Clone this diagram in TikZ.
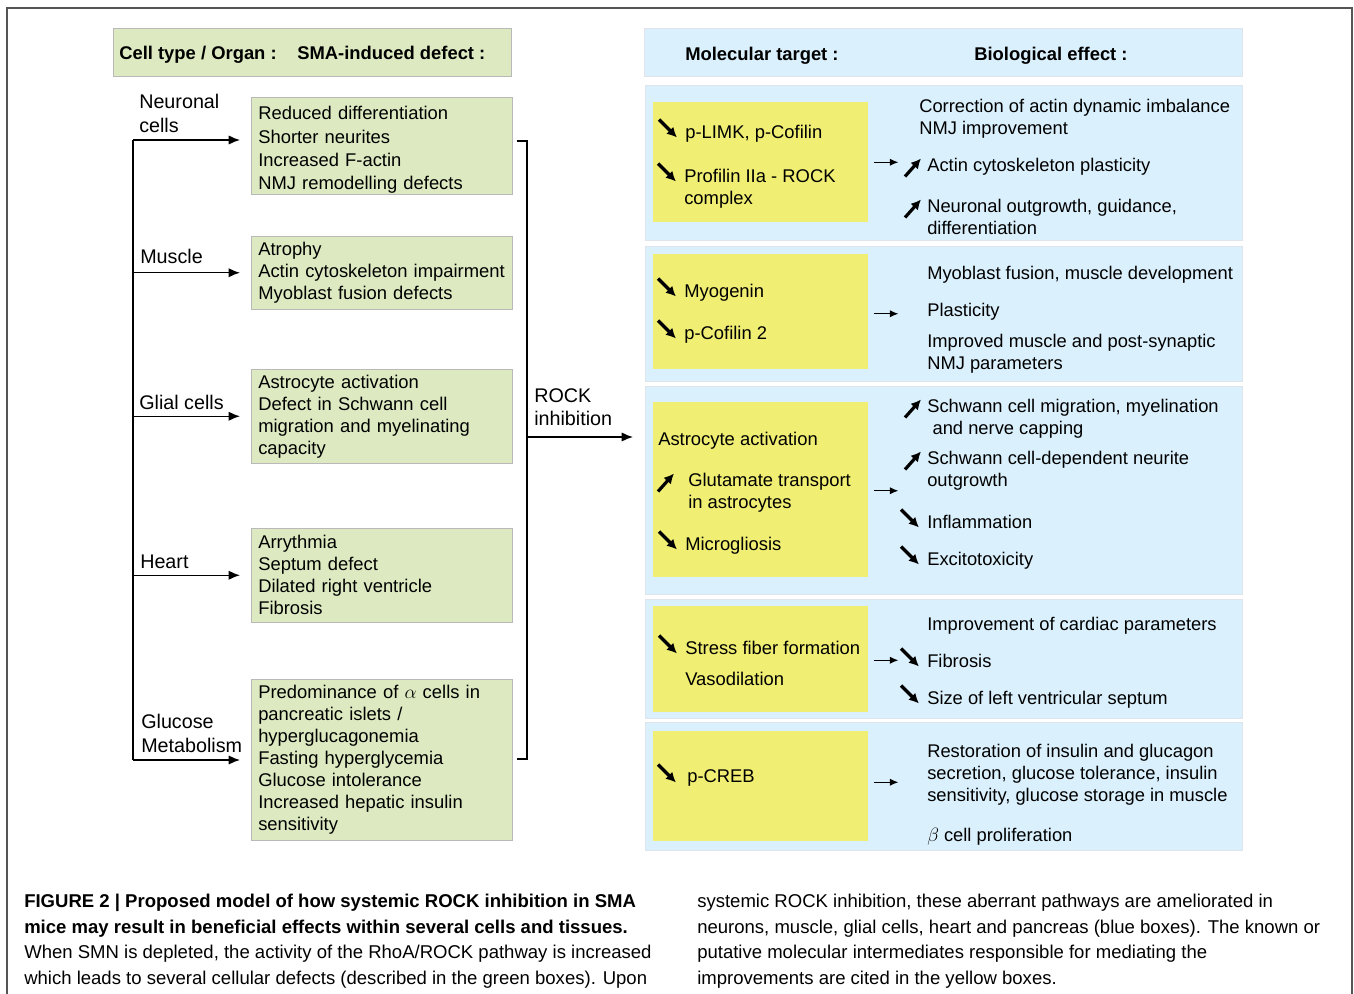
\documentclass[tikz,border=0pt]{standalone}
\usepackage{fontspec}
\setmainfont{Liberation Sans}
\usetikzlibrary{positioning}
\usetikzlibrary{arrows.meta}
\definecolor{defectGreen}{RGB}{221,234,193}
\definecolor{boxGray}{RGB}{185,185,185}
\definecolor{effectBlue}{RGB}{218,240,252}
\definecolor{panelEdge}{RGB}{222,228,234}
\definecolor{targetYellow}{RGB}{240,238,115}
\definecolor{frameGray}{RGB}{85,85,85}
\newcommand{\diagfont}{\fontsize{13.8pt}{16.5pt}\selectfont}
\newcommand{\effectfont}{\fontsize{13.75pt}{16.5pt}\selectfont}
\newcommand{\organfont}{\fontsize{14.8pt}{17.7pt}\selectfont}
\newcommand{\capfont}{\fontsize{13.9pt}{19.1pt}\selectfont}
\newcommand{\trenddown}[2][0]{\draw[trend] ([shift={(-26-#1,-5)}]#2.north west) -- ([shift={(-8-#1,13)}]#2.north west);}
\newcommand{\trendup}[2][0]{\draw[trend] ([shift={(-22-#1,19)}]#2.north west) -- ([shift={(-6-#1,1)}]#2.north west);}

\begin{document}
\begin{tikzpicture}[x=0.75pt,y=-0.75pt]

            \tikzstyle{defectBox} = [draw=boxGray, fill=defectGreen, anchor=north west, minimum width=195.75pt, text width=185.25pt, inner xsep=5.25pt, align=left, font=\diagfont];
            \tikzstyle{panel} = [draw=panelEdge, fill=effectBlue, anchor=north west, minimum width=447.75pt, inner sep=0pt];
            \tikzstyle{target} = [fill=targetYellow, anchor=north west, minimum width=161.25pt, inner sep=0pt];
            \tikzstyle{txt} = [anchor=north west, inner sep=0pt, align=left, font=\diagfont];
            \tikzstyle{head} = [txt, font=\diagfont\bfseries];
            \tikzstyle{effect} = [txt, font=\effectfont];
            \tikzstyle{organ} = [anchor=north west, inner sep=0pt, align=left, font=\organfont];
            \tikzstyle{caption} = [anchor=north west, inner sep=0pt, align=left, font=\capfont];
            \tikzstyle{feed} = [line width=1.1pt, -{Latex[length=8.5pt,width=7pt]}, shorten >=8.25pt];
            \tikzstyle{small} = [line width=1.1pt, -{Latex[length=6.5pt,width=5.5pt]}];
            \tikzstyle{trend} = [line width=2.4pt, -{Latex[length=7.5pt,width=7.5pt]}];

            \useasboundingbox (0,0) rectangle (1354,994);
            \draw[frameGray, line width=1.2pt] (7,994) -- (7,8) -- (1352,8) -- (1352,994);

            \node[draw=boxGray, fill=defectGreen, anchor=north west, minimum width=298.5pt, minimum height=36pt] (hdrL) at (113,28) {};
            \node[panel, minimum width=448.5pt, minimum height=36pt] (hdrR) at (644,28) {};
            \node[head] (hCell) at (119,46) {Cell type / Organ :};
            \node[head] (hDefect) at (297,46) {SMA-induced defect :};
            \node[head] (hTarget) at (685,47) {Molecular target :};
            \node[head] (hEffect) at (974,47) {Biological effect :};

            \node[defectBox, inner ysep=0pt, minimum height=72.75pt] (neur) at (251,97) {\rule{0pt}{16.5pt}Reduced differentiation\\[1pt]Shorter neurites\\[1pt]Increased F-actin\\[1pt]NMJ remodelling defects};
            \node[defectBox, minimum height=54.75pt] (musc) at (251,236) {Atrophy\\Actin cytoskeleton impairment\\Myoblast fusion defects};
            \node[defectBox, minimum height=70.5pt] (glia) at (251,369) {Astrocyte activation\\Defect in Schwann cell\\migration and myelinating\\capacity};
            \node[defectBox, minimum height=70.5pt] (heart) at (251,528) {Arrythmia\\Septum defect\\Dilated right ventricle\\Fibrosis};
            \node[defectBox, minimum height=120.75pt] (gluc) at (251,679) {Predominance of $\alpha$ cells in\\pancreatic islets /\\hyperglucagonemia\\Fasting hyperglycemia\\Glucose intolerance\\Increased hepatic insulin\\sensitivity};

            \node[organ] (lNeur) at (139,94) {Neuronal\\cells};
            \node[organ] (lMusc) at (140,249) {Muscle};
            \node[organ] (lGlia) at (139,395) {Glial cells};
            \node[organ] (lHeart) at (140,555) {Heart};
            \node[organ] (lGluc) at (141,714) {Glucose\\Metabolism};
            \node[organ] (lRock) at (534,388) {ROCK\\inhibition};

            \coordinate (spineTop) at (133,140);
            \coordinate (spineBot) at (133,760);
            \draw[line width=1.1pt] (spineTop) -- (spineBot);
            \draw[feed] (spineTop) -- (spineTop -| neur.west);
            \draw[feed] (spineBot |- musc.west) -- (musc.west);
            \draw[feed] (spineBot |- glia.west) -- (glia.west);
            \draw[feed] (spineBot |- heart.west) -- (heart.west);
            \draw[feed] (spineBot) -- (spineBot -| gluc.west);

            \coordinate (joinTop) at (527,141);
            \coordinate (joinBot) at (527,759);
            \coordinate (rockEnd) at (633,437);
            \draw[line width=1.1pt] ([xshift=3pt]neur.east |- joinTop) -- (joinTop) -- (joinBot) -- ([xshift=3pt]gluc.east |- joinBot);
            \draw[feed, shorten >=0pt] (joinTop |- rockEnd) -- (rockEnd);

            \node[panel, minimum height=116.25pt] (p1) at (645,85) {};
            \node[panel, minimum height=101.25pt] (p2) at (645,246) {};
            \node[panel, minimum height=156pt] (p3) at (645,386) {};
            \node[panel, minimum height=89.25pt] (p4) at (645,599) {};
            \node[panel, minimum height=96pt] (p5) at (645,722) {};

            \node[target, minimum height=90pt] (t1) at (653,102) {};
            \node[target, minimum height=86.25pt] (t2) at (653,254) {};
            \node[target, minimum height=131.25pt] (t3) at (653,402) {};
            \node[target, minimum height=79.5pt] (t4) at (653,606) {};
            \node[target, minimum height=82.5pt] (t5) at (653,731) {};

            \node[txt] (limk) at (685,124.5) {p-LIMK, p-Cofilin};
            \node[txt] (prof) at (684,168.5) {Profilin IIa - ROCK\\complex};
            \node[txt] (myog) at (684,283.5) {Myogenin};
            \node[txt] (cof2) at (684,325.5) {p-Cofilin 2};
            \node[txt] (astro) at (658,431.5) {Astrocyte activation};
            \node[txt] (glut) at (688,472.5) {Glutamate transport\\in astrocytes};
            \node[txt] (micro) at (685,536.5) {Microgliosis};
            \node[txt] (stress) at (685,640.5) {Stress fiber formation};
            \node[txt] (vaso) at (685,671.5) {Vasodilation};
            \node[txt] (creb) at (687,769.5) {p-CREB};

            \node[effect] (corr) at (919,98.5) {Correction of actin dynamic imbalance\\NMJ improvement};
            \node[effect] (plast1) at (927,157.5) {Actin cytoskeleton plasticity};
            \node[effect] (outg) at (927,198.5) {Neuronal outgrowth, guidance,\\differentiation};
            \node[effect] (fusion) at (927,265.5) {Myoblast fusion, muscle development};
            \node[effect] (plast2) at (927,302.5) {Plasticity};
            \node[effect] (nmj) at (927,333.5) {Improved muscle and post-synaptic\\NMJ parameters};
            \node[effect] (migr) at (927,398.5) {Schwann cell migration, myelination\\\hspace*{4pt}and nerve capping};
            \node[effect] (neurite) at (927,450.5) {Schwann cell-dependent neurite\\outgrowth};
            \node[effect] (infl) at (927,514.5) {Inflammation};
            \node[effect] (excit) at (927,551.5) {Excitotoxicity};
            \node[effect] (cardio) at (927,616.5) {Improvement of cardiac parameters};
            \node[effect] (fibr) at (927,653.5) {Fibrosis};
            \node[effect] (septum) at (927,690.5) {Size of left ventricular septum};
            \node[effect] (insul) at (927,743.5) {Restoration of insulin and glucagon\\secretion, glucose tolerance, insulin\\sensitivity, glucose storage in muscle};
            \node[effect] (beta) at (927,827.5) {$\beta$ cell proliferation};

            \foreach \t/\dy in {t1/0,t2/2,t3/1,t4/1,t5/-4}
              \draw[small] ([shift={(5,\dy)}]\t.east) -- ++(25,0);

            \trenddown{limk}
            \trenddown{prof}
            \trendup{plast1}
            \trendup{outg}
            \trenddown{myog}
            \trenddown{cof2}
            \trendup[8]{glut}
            \trenddown{micro}
            \trendup{migr}
            \trendup{neurite}
            \trenddown{infl}
            \trenddown{excit}
            \trenddown{stress}
            \trenddown{fibr}
            \trenddown{septum}
            \trenddown[3]{creb}

            \node[caption] (capL) at (24,894) {\textbf{FIGURE 2 | Proposed model of how systemic ROCK inhibition in SMA}\\\textbf{mice may result in beneficial effects within several cells and tissues.}\\When SMN is depleted, the activity of the RhoA/ROCK pathway is increased\\which leads to several cellular defects (described in the green boxes). Upon};
            \node[caption] (capR) at (697,894) {systemic ROCK inhibition, these aberrant pathways are ameliorated in\\neurons, muscle, glial cells, heart and pancreas (blue boxes). The known or\\putative molecular intermediates responsible for mediating the\\improvements are cited in the yellow boxes.};
          \end{tikzpicture}
\end{document}
